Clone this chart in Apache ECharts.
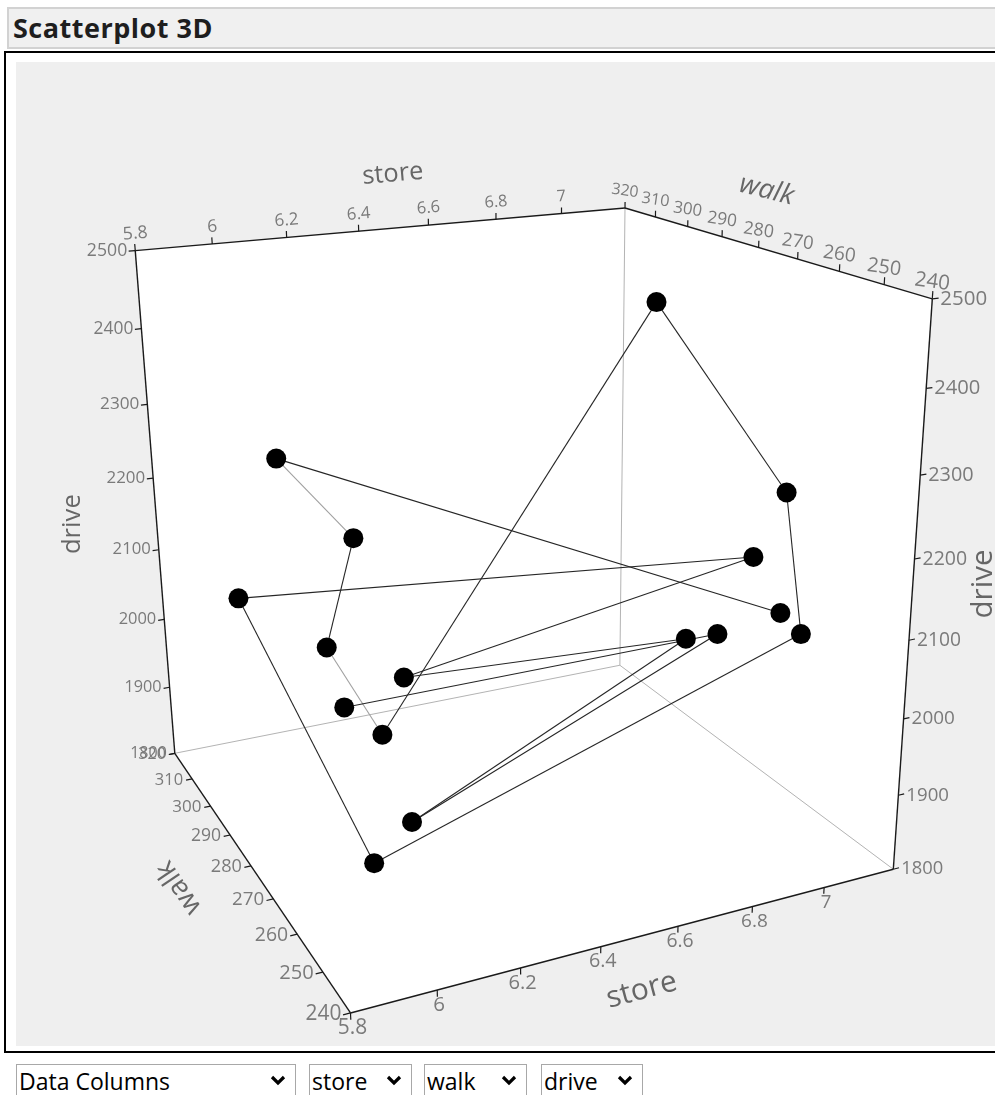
<!DOCTYPE html>
<html>
<head>
<meta charset="utf-8">
<title>Scatterplot 3D</title>
<script src="https://cdn.jsdelivr.net/npm/echarts@6.0.0/dist/echarts.min.js"></script>
<style>
  html, body { margin: 0; padding: 0; background: #fff; }
  body { position: relative; width: 995px; height: 1095px; overflow: hidden; font-family: "Open Sans", "DejaVu Sans", sans-serif; }
  #title { position: absolute; left: 7px; top: 7px; width: 1000px; height: 38px; background: #f0f0f0; border: 2px solid #d2d2d2; }
  #title span { position: absolute; left: 4px; top: 0; line-height: 38px; font-size: 27px; font-weight: 700; letter-spacing: 0.5px; color: #1e1e1e; }
  #frame { position: absolute; left: 4px; top: 51px; width: 1100px; height: 998px; border: 2px solid #000; }
  #chart { position: absolute; left: 16px; top: 62px; width: 979px; height: 984px; }
  select {
    position: absolute; top: 1064px; height: 42px; margin: 0;
    padding: 0 0 14px 2px; box-sizing: border-box;
    font-family: "Open Sans", sans-serif; font-size: 23px; color: #000;
    background-color: #fff; border: 1px solid #a8a8a8; border-radius: 0;
    -webkit-appearance: none; appearance: none;
    background-image: url("data:image/svg+xml;utf8,<svg xmlns='http://www.w3.org/2000/svg' width='16' height='12'><polyline points='2,2 8,8 14,2' fill='none' stroke='black' stroke-width='3.2'/></svg>");
    background-repeat: no-repeat; background-position: right 9px top 10px;
  }
</style>
</head>
<body>
<div id="title"><span>Scatterplot 3D</span></div>
<div id="frame"></div>
<div id="chart"></div>
<select style="left:16px;width:280px"><option>Data Columns</option></select>
<select style="left:309px;width:103px"><option>store</option></select>
<select style="left:424px;width:103px"><option>walk</option></select>
<select style="left:541px;width:102px"><option>drive</option></select>
<script>
// --- data, in row order ---
const store = [6.96, 6.03, 6.10, 6.08, 6.22, 7.01, 7.08, 7.02, 5.93, 5.96, 6.88, 6.42, 6.81, 6.09, 6.79, 6.18];
const walk  = [250, 300, 280, 290, 290, 290, 260, 250, 250, 310, 250, 310, 260, 260, 250, 300];
const drive = [2124, 2258, 2202, 2031, 1896, 2424, 2238, 2092, 1920, 2047, 2200, 1889, 2073, 1910, 2113, 1903];

const storeRange = [5.8, 7.2];
const walkRange = [240, 320];
const driveRange = [1800, 2500];
const storeTicks = [5.8, 6, 6.2, 6.4, 6.6, 6.8, 7];
const walkTicks = [320, 310, 300, 290, 280, 270, 260, 250, 240];
const driveTicks = [1800, 1900, 2000, 2100, 2200, 2300, 2400, 2500];

// --- view (camera) ---
const W = 979, H = 984;
const cam = { yaw: 24.7, pitch: 19.7, roll: 0.63, dist: 3.25, focal: 1840, cx: 491, cy: 492 };
const faintSegments = [1, 3];
const TICK = 0.012;

const rad = Math.PI / 180;
const cYaw = Math.cos(cam.yaw * rad), sYaw = Math.sin(cam.yaw * rad);
const cPit = Math.cos(cam.pitch * rad), sPit = Math.sin(cam.pitch * rad);
const cRol = Math.cos(cam.roll * rad), sRol = Math.sin(cam.roll * rad);

// cube coords in [-0.5, 0.5]: x = store, y = drive (up), z = walk (back)
function project(x, y, z) {
  const x1 = x * cYaw - z * sYaw;
  const h = x * sYaw + z * cYaw;
  const yc = -y * cPit - h * sPit;
  const zc = h * cPit - y * sPit + cam.dist;
  const u = x1 / zc, v = yc / zc;
  return [u * cRol + v * sRol, v * cRol - u * sRol, zc];
}
const nx = s => (s - storeRange[0]) / (storeRange[1] - storeRange[0]) - 0.5;
const ny = d => (d - driveRange[0]) / (driveRange[1] - driveRange[0]) - 0.5;
const nz = w => (w - walkRange[0]) / (walkRange[1] - walkRange[0]) - 0.5;

const pts = store.map((s, i) => project(nx(s), ny(drive[i]), nz(walk[i])));
const segs = pts.slice(1).map((p, i) => ({
  coords: [[pts[i][0], pts[i][1]], [p[0], p[1]]],
  lineStyle: { color: faintSegments.includes(i) ? '#a0a0a0' : '#262626' }
}));

// axis edges: where a tick sits, which way it points, how its label is set
const axisEdges = [
  { ticks: storeTicks, at: v => [nx(v), 0.5, 0.5], dir: [0, 1, 0], off: [0, -17], align: 'center', rot: 5 },
  { ticks: storeTicks, at: v => [nx(v), -0.5, -0.5], dir: [0, -1, 0], off: [2, 15], align: 'center', rot: 0 },
  { ticks: walkTicks, at: v => [0.5, 0.5, nz(v)], dir: [0, 1, 0], off: [0, -17], align: 'center', rot: -8 },
  { ticks: walkTicks, at: v => [-0.5, -0.5, nz(v)], dir: [-1, 0, 0], off: [-9, 1], align: 'right', rot: 0 },
  { ticks: driveTicks, at: v => [-0.5, ny(v), 0.5], dir: [-1, 0, 0], off: [-8, 0], align: 'right', rot: 0 },
  { ticks: driveTicks, at: v => [0.5, ny(v), -0.5], dir: [1, 0, 0], off: [8, 0], align: 'left', rot: 0 }
];
const axisTitles = [
  { text: 'store', at: [0, 0.5, 0.5], off: [-1, -54], rot: 5 },
  { text: 'walk', at: [0.5, 0.5, 0], off: [8, -57], rot: -14, italic: true },
  { text: 'drive', at: [-0.5, 0, 0.5], off: [-83, 10], rot: 90 },
  { text: 'drive', at: [0.5, 0, -0.5], off: [72, -16], rot: 90 },
  { text: 'walk', at: [-0.5, -0.5, 0], off: [-72, 22], rot: 124 },
  { text: 'store', at: [0, -0.5, -0.5], off: [2, 54], rot: 15 }
];

function renderBox(params, api) {
  const P = (x, y, z) => { const p = project(x, y, z); return api.coord([p[0], p[1]]); };
  const depth = (x, y, z) => project(x, y, z)[2];
  const q = 0.5;
  const A = P(-q, -q, -q), B = P(q, -q, -q), C = P(-q, -q, q), D = P(q, -q, q);
  const E = P(-q, q, q), F = P(q, q, q), G = P(q, q, -q);
  const kids = [];
  const face = pp => kids.push({ type: 'polygon', shape: { points: pp }, style: { fill: '#fff' } });
  const seg = (a, b, color, w) => kids.push({
    type: 'line', shape: { x1: a[0], y1: a[1], x2: b[0], y2: b[1] },
    style: { stroke: color, lineWidth: w }
  });
  const text = (str, p, rot, size, fill, align, extra) => kids.push({
    type: 'text', x: p[0], y: p[1], rotation: rot * rad, z2: 5,
    style: Object.assign({
      text: str, fill: fill, fontSize: size, fontFamily: '"Open Sans", sans-serif',
      align: align, verticalAlign: 'middle'
    }, extra || {})
  });

  face([A, B, D, C]);
  face([C, D, F, E]);
  face([B, G, F, D]);
  seg(D, C, '#b4b4b4', 1);
  seg(D, B, '#b4b4b4', 1);
  seg(D, F, '#b4b4b4', 1);
  [[A, B], [B, G], [G, F], [F, E], [E, C], [C, A]].forEach(e => seg(e[0], e[1], '#1a1a1a', 1.4));

  axisEdges.forEach(ax => {
    ax.ticks.forEach(v => {
      const w = ax.at(v);
      const base = P(w[0], w[1], w[2]);
      const tip = P(w[0] + ax.dir[0] * TICK, w[1] + ax.dir[1] * TICK, w[2] + ax.dir[2] * TICK);
      seg(base, tip, '#1a1a1a', 1.2);
      const size = 18 * cam.dist / depth(w[0], w[1], w[2]);
      text(String(v), [base[0] + ax.off[0], base[1] + ax.off[1]], ax.rot, size, '#7a7a7a', ax.align);
    });
  });

  axisTitles.forEach(t => {
    const p = P(t.at[0], t.at[1], t.at[2]);
    const size = 27.5 * cam.dist / depth(t.at[0], t.at[1], t.at[2]);
    text(t.text, [p[0] + t.off[0], p[1] + t.off[1]], t.rot, size, '#666', 'center',
      t.italic ? { fontStyle: 'italic' } : null);
  });

  return { type: 'group', children: kids };
}

const chart = echarts.init(document.getElementById('chart'), null, { renderer: 'canvas', width: W, height: H });
chart.setOption({
  animation: false,
  backgroundColor: '#efefef',
  grid: { left: 0, right: 0, top: 0, bottom: 0, show: false },
  xAxis: { type: 'value', show: false, min: -cam.cx / cam.focal, max: (W - cam.cx) / cam.focal },
  yAxis: { type: 'value', show: false, inverse: true, min: -cam.cy / cam.focal, max: (H - cam.cy) / cam.focal },
  series: [
    {
      type: 'custom', coordinateSystem: 'cartesian2d', clip: false, silent: true, z: 1,
      data: [[0, 0]], renderItem: renderBox
    },
    {
      type: 'lines', coordinateSystem: 'cartesian2d', silent: true, z: 2,
      lineStyle: { width: 1.1, opacity: 1 }, data: segs
    },
    {
      type: 'scatter', silent: true, z: 3, clip: false,
      symbol: 'circle', symbolSize: 20, itemStyle: { color: '#000', opacity: 1 },
      data: pts.map(p => [p[0], p[1]])
    }
  ]
});
</script>
</body>
</html>
